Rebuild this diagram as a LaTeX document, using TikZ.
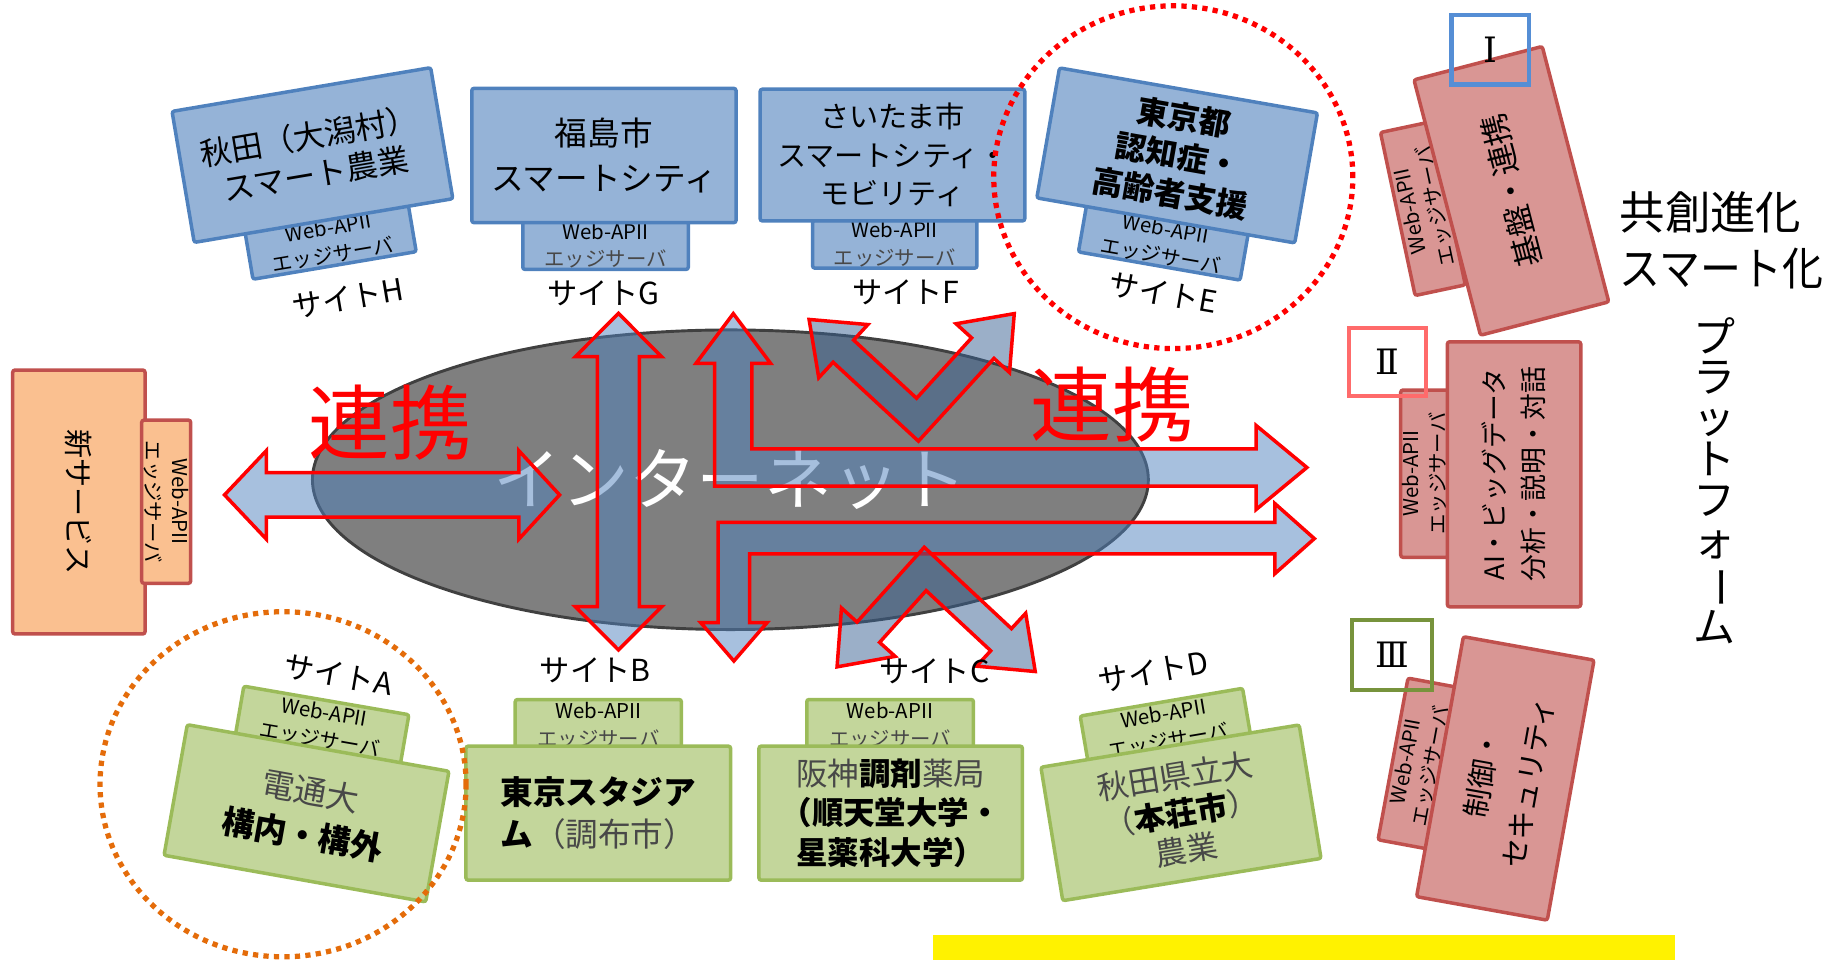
\documentclass[tikz,border=0pt]{standalone}
\usepackage{fontspec}
\usepackage{graphicx}
\setmainfont{Noto Sans CJK JP}
\newfontfamily\romfont{DejaVu Serif}
\definecolor{bfill}{HTML}{95B3D7}
\definecolor{bborder}{HTML}{4F81BD}
\definecolor{gfill}{HTML}{C3D69B}
\definecolor{gborder}{HTML}{9BBB59}
\definecolor{rfill}{HTML}{D99694}
\definecolor{rborder}{HTML}{C0504D}
\definecolor{ofill}{HTML}{FAC090}
\definecolor{romI}{HTML}{558ED5}
\definecolor{romII}{HTML}{FF6B6B}
\definecolor{romIII}{HTML}{77933C}
\definecolor{netgray}{HTML}{7F7F7F}
\definecolor{netborder}{HTML}{404040}
\definecolor{arrowblue}{HTML}{4F81BD}
\definecolor{arrowdark}{HTML}{376092}
\definecolor{thingray}{HTML}{484848}
\definecolor{dotorange}{HTML}{E46C0A}
\newcommand\myfs[2]{\fontsize{#1}{#2}\selectfont}
\newcommand\thn[1]{{\color{thingray}#1}}
\tikzset{
  sitebox/.style={line width=3pt, rounded corners=2pt, inner sep=0pt, align=center},
  bluebox/.style={sitebox, draw=bborder, fill=bfill},
  greenbox/.style={sitebox, draw=gborder, fill=gfill},
  redbox/.style={sitebox, draw=rborder, fill=rfill},
  orangebox/.style={sitebox, draw=rborder, fill=ofill},
  edgefont/.style={font=\myfs{17.5}{23.5}},
  sitelabel/.style={font=\myfs{26}{30}, inner sep=0pt},
  bigarrow/.style={draw=red, line width=3pt, fill=arrowblue, fill opacity=0.5, line join=miter},
  vshape/.style={bigarrow, fill=arrowdark},
  romanbox/.style={line width=3.5pt, inner sep=0pt, font=\romfont\myfs{30}{32}},
  dotcircle/.style={line width=4.5pt, dash pattern=on 4.5pt off 4.5pt},
  renkei/.style={text=red, font=\myfs{70}{72}, inner sep=0pt},
}
\begin{document}
\begin{tikzpicture}[x=1pt,y=-1pt]
\useasboundingbox (0,0) rectangle (1568,822.6);

% internet ellipse
\draw[fill=netgray, draw=netborder, line width=2.5pt] (626.5,411.5) ellipse [x radius=358.5pt, y radius=128.5pt];
\node[text=white, font=\myfs{58}{60}, inner sep=0pt] (net) at (626.7,411) {インターネット};

% block arrows
\draw[bigarrow] (192.6,424.5) -- (228.5,386.5) -- (228.5,405.5) -- (445,405.5) -- (445,386.5) -- (480,424.5) -- (445,462.5) -- (445,443.5) -- (228.5,443.5) -- (228.5,462.5) -- cycle;
\draw[bigarrow] (530.5,268.8) -- (567.5,306) -- (548.5,306) -- (548.5,520.4) -- (567.5,520.4) -- (530.5,557.5) -- (493.5,520.4) -- (512.5,520.4) -- (512.5,306) -- (493.5,306) -- cycle;
\draw[bigarrow] (629,269) -- (661,311.7) -- (645,311.7) -- (645,385) -- (1077.5,385) -- (1077.5,365) -- (1121,401) -- (1077.5,437) -- (1077.5,417) -- (613,417) -- (613,311.7) -- (597,311.7) -- cycle;
\draw[bigarrow] (616,448) -- (1093.6,448) -- (1093.6,432) -- (1127.4,462) -- (1093.6,492) -- (1093.6,475) -- (643,475) -- (643,534) -- (658,534) -- (629.5,567) -- (601,534) -- (616,534) -- cycle;
\draw[vshape] (787.8,378.4) -- (714.6,310.7) -- (702.3,324) -- (694,274) -- (744.4,278.4) -- (732.2,291.7) -- (786.2,341.6) -- (833.4,289.8) -- (820.1,277.7) -- (870,269) -- (865.9,319.5) -- (852.6,307.4) -- cycle;
\draw[vshape] (792.8,469.4) -- (867.6,539.2) -- (879.8,526.0) -- (888,576) -- (837.6,571.4) -- (849.8,558.2) -- (794.4,506.6) -- (754.5,551.0) -- (767.8,563.0) -- (718,572) -- (721.8,521.5) -- (735.1,533.6) -- cycle;

\node[renkei] (rk1) at (334.6,362.4) {連携};
\node[renkei] (rk2) at (953.9,347.4) {連携};

% top row (blue)
\node[bluebox, edgefont, minimum width=142pt, minimum height=42pt, rotate=9.6] (he) at (283.5,207) {Web-APII\\エッジサーバ};
\node[bluebox, font=\myfs{27}{33}, minimum width=225pt, minimum height=114pt, rotate=9.6] (hm) at (268,133) {秋田（大潟村）\\スマート農業};
\node[sitelabel, rotate=9.6] (lh) at (298.5,255.5) {サイトH};

\node[bluebox, edgefont, minimum width=142pt, minimum height=41pt] (ge) at (519.4,210.6) {Web-APII\\\thn{エッジサーバ}};
\node[bluebox, font=\myfs{28}{38}, minimum width=226.7pt, minimum height=115.2pt] (gm) at (518,133.4) {福島市\\スマートシティ};
\node[sitelabel] (lg) at (517.5,251.6) {サイトG};

\node[bluebox, edgefont, minimum width=141pt, minimum height=41pt] (fe) at (767.5,209.5) {Web-APII\\\thn{エッジサーバ}};
\node[bluebox, font=\myfs{25}{33}, minimum width=227pt, minimum height=113pt] (fm) at (765.5,133) {さいたま市\\スマートシティ・\\モビリティ};
\node[sitelabel] (lf) at (777,251) {サイトF};

\node[bluebox, edgefont, minimum width=140.8pt, minimum height=41pt, rotate=-9.9] (ee) at (997.9,208) {Web-APII\\エッジサーバ};
\node[bluebox, font=\myfs{27}{33}\bfseries, minimum width=224.6pt, minimum height=113.2pt, rotate=-9.9] (em) at (1009.7,133.3) {東京都\\認知症・\\高齢者支援};
\node[sitelabel, rotate=-9.9] (le) at (997.9,251.6) {サイトE};

% bottom row (green)
\node[greenbox, edgefont, minimum width=143.7pt, minimum height=44pt, rotate=-9.8] (ae) at (276.2,622.5) {Web-APII\\エッジサーバ};
\node[greenbox, font=\myfs{28}{38}, minimum width=228pt, minimum height=113.8pt, rotate=-10.1] (am) at (262.9,697.6) {\thn{電通大}\\\textbf{構内・構外}};
\node[sitelabel, rotate=-10] (la) at (290.2,579) {サイトA};

\node[greenbox, edgefont, minimum width=142.5pt, minimum height=44pt] (be) at (513.2,622) {Web-APII\\\thn{エッジサーバ}};
\node[greenbox, font=\myfs{28}{36}, minimum width=227pt, minimum height=115pt] (bm) at (513.2,697.5) {\textbf{東京スタジア}\\\textbf{ム}\thn{（調布市）}};
\node[sitelabel] (lb) at (510.6,575.3) {サイトB};

\node[greenbox, edgefont, minimum width=143pt, minimum height=44pt] (ce) at (763.5,622) {Web-APII\\\thn{エッジサーバ}};
\node[greenbox, font=\myfs{27}{34}, minimum width=226pt, minimum height=115pt] (cm) at (764,697.5) {\thn{阪神}\textbf{調剤}\thn{薬局}\\\textbf{（順天堂大学・}\\\textbf{星薬科大学）}};
\node[sitelabel] (lc) at (801.4,576.2) {サイトC};

\node[greenbox, edgefont, minimum width=141.3pt, minimum height=44pt, rotate=9.7] (de) at (999.9,624) {Web-APII\\エッジサーバ};
\node[greenbox, font=\myfs{27}{32}, minimum width=224.5pt, minimum height=116pt, rotate=9.3] (dm) at (1013,697.2) {\thn{秋田県立大}\\\thn{（}\textbf{本荘市}\thn{）}\\\thn{農業}};
\node[sitelabel, rotate=10] (ld) at (989.3,576.2) {サイトD};

% new service (left)
\node[orangebox, font=\myfs{25}{30}, minimum width=226.4pt, minimum height=113.5pt, rotate=-90] (sm) at (67.65,430.6) {新サービス};
\node[orangebox, edgefont, minimum width=140pt, minimum height=42pt, rotate=-90] (se) at (142.55,430.35) {Web-APII\\エッジサーバ};

% right platform column
\node[redbox, font=\myfs{17.5}{22}, minimum width=143pt, minimum height=44pt, rotate=102] (r1e) at (1220.5,179) {Web-APII\\エッジサーバ};
\node[redbox, font=\myfs{27}{30}, minimum width=226.4pt, minimum height=113.7pt, rotate=104.6] (r1m) at (1296.4,163.7) {基盤・連携};
\node[romanbox, draw=romI, minimum width=66.5pt, minimum height=59.5pt] (rI) at (1278.3,42.75) {Ⅰ};

\node[redbox, edgefont, minimum width=143.5pt, minimum height=40.8pt, rotate=90] (r2e) at (1221.9,406.3) {Web-APII\\エッジサーバ};
\node[redbox, font=\myfs{23}{33.5}, minimum width=227.3pt, minimum height=114.4pt, rotate=90] (r2m) at (1298.7,406.8) {AI・ビッグデータ\\分析・説明・対話};
\node[romanbox, draw=romII, minimum width=66pt, minimum height=59pt] (rII) at (1190,310.5) {Ⅱ};

\node[redbox, font=\myfs{17.5}{22}, minimum width=141pt, minimum height=44pt, rotate=79.5] (r3e) at (1216.5,655) {Web-APII\\エッジサーバ};
\node[redbox, font=\myfs{25}{40}, minimum width=226.6pt, minimum height=113.9pt, rotate=79.8] (r3m) at (1291.2,667.7) {制御・\\セキュリティ};
\node[romanbox, draw=romIII, minimum width=68pt, minimum height=60pt] (rIII) at (1194,562) {Ⅲ};

\node[anchor=west, font=\myfs{39}{44}, inner sep=0pt] (kyo) at (1389,182.3) {共創進化};
\node[anchor=west, font=\myfs{39}{44}, inner sep=0pt] (sma) at (1389,230.2) {\scalebox{0.9}[1]{スマート化}};
\node[align=center, font=\myfs{36}{35}, inner sep=0pt] (plat) at (1471,412) {プ\\ラ\\ッ\\ト\\フ\\ォ\\\rotatebox[origin=c]{-90}{ー}\\ム};

% dotted circles
\draw[dotcircle, draw=red] (1006.4,152) ellipse [x radius=154pt, y radius=147pt];
\draw[dotcircle, draw=dotorange] (242.8,672.7) ellipse [x radius=157pt, y radius=148pt];

% yellow box at bottom
\fill[yellow] (800,802) rectangle (1437,830);
\end{tikzpicture}
\end{document}
